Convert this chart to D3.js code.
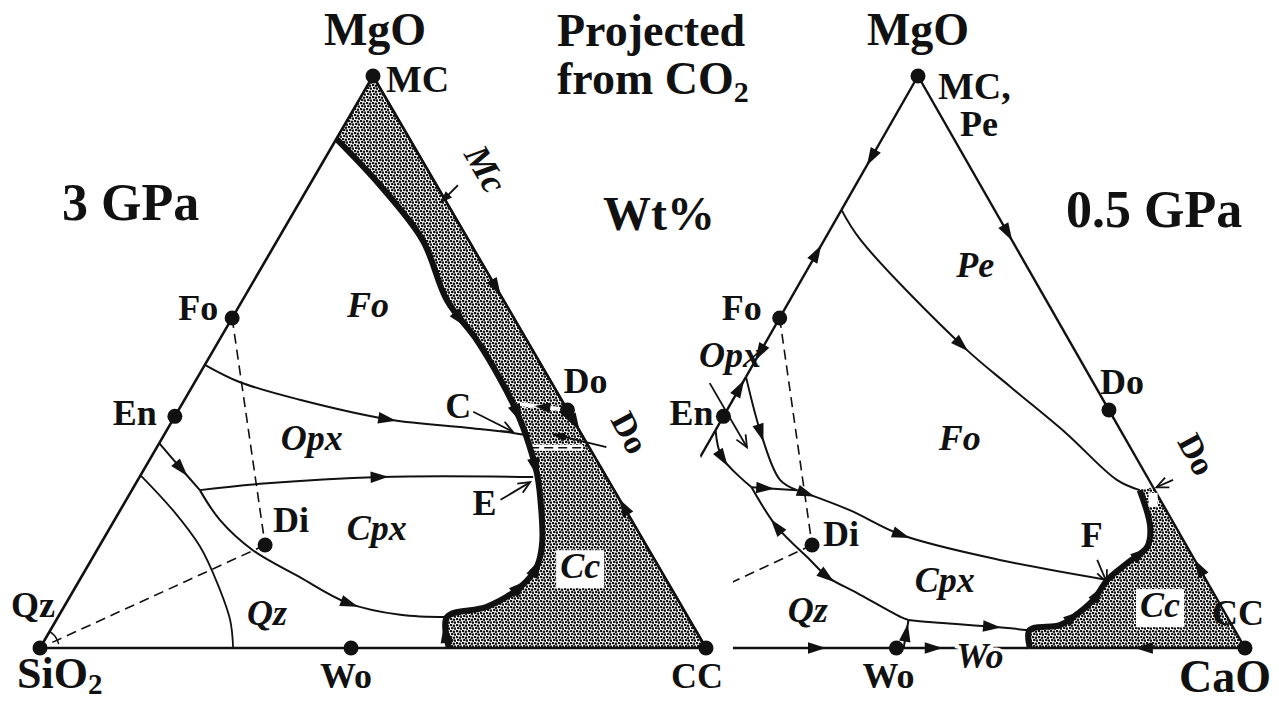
<!DOCTYPE html>
<html>
<head>
<meta charset="utf-8">
<script src="https://cdn.jsdelivr.net/npm/d3@7"></script>
<style>
  body { margin: 0; background: #fff; }
  svg text { font-family: "Liberation Serif", "Times New Roman", serif; font-weight: bold; fill: #111; }
</style>
</head>
<body>
<svg id="chart" width="1279" height="704"></svg>
<script>
// compositions are wt% [CaO, MgO]; SiO2 is the remainder (projected from CO2)
const phaseNames = ["SiO2", "Wo", "CC", "Di", "En", "Fo", "Do", "MC"];
const phaseCaO = [0, 46.7, 100, 24.8, 0, 0, 58.4, 0];
const phaseMgO = [0, 0, 0, 18.0, 40.5, 57.7, 41.6, 100];

// ---- 3 GPa boundaries ----
const hpThick  = [[0,89],[10.6,80.9],[21.8,71.3],[30.7,60.8],[38.7,53.8],[45.7,46.9],[51.1,41.1],[56.0,35.1],[59.3,30.6],[61.9,26.4],[66.2,18.4],[67.5,14.2],[66.8,10.7],[63.5,7.2],[58.4,5.4],[61.4,0]];
const hpFoOpx  = [[0,49.5],[6.7,46.5],[17.3,43.4],[32.7,39.9],[44.9,38.5],[52.2,37.6],[55.1,37.1]];
const hpOpxQz  = [[0,35.8],[4.7,32.0],[10.2,27.6]];
const hpOpxCpx = [[10.2,27.6],[18.7,28.7],[36.2,29.9],[59.1,29.9]];
const hpCpxQz  = [[10.2,27.6],[15.8,22.4],[23.4,17.1],[32.8,12.4],[42.2,7.9],[51.2,5.8],[58.4,5.4]];
const hpQzLine = [[0,30.2],[7.9,24.1],[15.2,17.7],[20.9,11.4],[26.1,4.9],[29.0,0]];
const hpDoTie  = [[58.4,41.6],[50.3,42.7]];
const hpDoDash = [[56.1,35.0],[64.0,35.0]];
const hpFieldNames = ["Fo", "Opx", "Cpx", "Qz", "Cc"];
const hpFieldAt = [[20.3,57.9],[23.5,34.6],[41.1,18.9],[32.1,4.0],[75.0,12.2]];

// ---- 0.5 GPa boundaries ----
const lpFoPe   = [[0,76.6],[5.6,71.3],[30.7,52.6],[41.4,45.6],[53.8,37.6],[65.7,29.4],[70.1,27.6]];
const lpThick  = [[70.1,27.6],[74.9,21.2],[76.2,17.7],[74.6,14.9],[73.0,11.9],[72.6,8.4],[71.0,5.4],[69.7,4.0],[65.5,3.1],[67.1,0]];
const lpFoOpx  = [[0,47.4],[7.7,36.9],[14.2,29.4],[17.7,27.6]];
const lpFoCpx  = [[17.7,27.6],[27.5,24.1],[37.5,19.8],[54.8,15.4],[73.0,11.9]];
const lpOpxQz  = [[0,38.1],[3.3,33.4],[10.5,28.1]];
const lpOpxCpx = [[10.5,28.1],[17.7,27.6]];
const lpCpxQz  = [[10.5,28.1],[17.8,21.2],[25.8,15.4],[30.0,12.4],[35.9,9.6],[44.7,5.4],[46.1,4.9]];
const lpCpxWo  = [[46.1,4.9],[50.9,4.4],[59.7,3.7],[65.5,3.1]];
const lpQzWo   = [[47.8,0],[46.1,4.9]];
const lpCcTop  = [71.9,28.1];
const lpEdges = [
  [[0,100],[0,76.6]], [[0,57.7],[0,76.6]], [[0,57.7],[0,47.4]], [[0,40.5],[0,47.4]], [[0,40.5],[0,0]],
  [[0,100],[58.4,41.6]], [[58.4,41.6],[71.9,28.1]], [[100,0],[71.9,28.1]],
  [[0,0],[46.7,0]], [[46.7,0],[67.1,0]], [[100,0],[67.1,0]]
];
const lpEdgeArrow = [0.61, 0.6, 0.59, 0.72, null, 0.47, null, 0.5, 0.74, 0.28, 0.47];
const lpFieldNames = ["Pe", "Fo", "Opx", "Cpx", "Qz", "Cc"];
const lpFieldAt = [[26.3,64.9],[39.1,34.6],[-3.3,49.1],[49.2,9.8],[30.9,4.5],[84.3,5.4]];

const phase = {};
phaseNames.forEach((n, i) => phase[n] = [phaseCaO[i], phaseMgO[i]]);

const svg = d3.select("#chart");
const defs = svg.append("defs");
const pat = defs.append("pattern").attr("id", "stipple")
  .attr("patternUnits", "userSpaceOnUse").attr("width", 6).attr("height", 6);
pat.append("rect").attr("width", 6).attr("height", 6).attr("fill", "#fff");
[[1, 1], [4, 1.8], [2.2, 4], [5, 4.6]].forEach(([cx, cy]) =>
  pat.append("circle").attr("cx", cx).attr("cy", cy).attr("r", 1.3).attr("fill", "#111"));
defs.append("clipPath").attr("id", "clipR").append("polygon")
  .attr("points", "698,0 1279,0 1279,704 733,704 733,560 699,452");

const smooth = d3.curveCatmullRom.alpha(0.5);

function makePanel(x0, x1, clipId) {
  const xs = d3.scaleLinear().domain([0, 100]).range([x0, x1]);
  const ys = d3.scaleLinear().domain([0, 100]).range([648, 76]);
  const px = d => xs(d[0] + d[1] / 2);
  const py = d => ys(d[1]);
  const g = svg.append("g");
  if (clipId) g.attr("clip-path", `url(#${clipId})`);
  const lab = svg.append("g");
  return {xs, ys, px, py, g, lab};
}

function arrowOn(g, node, t, dir, size) {
  const L = node.getTotalLength();
  const s = L * t;
  const a = node.getPointAtLength(Math.max(0, s - 2));
  const b = node.getPointAtLength(Math.min(L, s + 2));
  const p = node.getPointAtLength(s);
  let ang = Math.atan2(b.y - a.y, b.x - a.x) * 180 / Math.PI;
  if (dir < 0) ang += 180;
  g.append("path")
    .attr("d", `M${size / 2},0L${-size / 2},${-size * 0.32}L${-size / 2},${size * 0.32}Z`)
    .attr("fill", "#111")
    .attr("transform", `translate(${p.x},${p.y}) rotate(${ang})`);
}

function drawPath(P, pts, o = {}) {
  const gen = d3.line().x(P.px).y(P.py).curve(o.curve || d3.curveLinear);
  const path = P.g.append("path")
    .attr("d", gen(pts))
    .attr("fill", "none")
    .attr("stroke", o.color || "#111")
    .attr("stroke-width", o.width || 2)
    .attr("stroke-linejoin", "round");
  if (o.dash) path.attr("stroke-dasharray", o.dash);
  (o.arrows || []).forEach(([t, dir]) => arrowOn(P.g, path.node(), t, dir, o.size || 18));
  return path;
}

function leader(P, from, to, head) {
  const x1 = P.px(from), y1 = P.py(from), x2 = P.px(to), y2 = P.py(to);
  P.lab.append("line").attr("x1", x1).attr("y1", y1).attr("x2", x2).attr("y2", y2)
    .attr("stroke", "#111").attr("stroke-width", 1.8);
  const a = Math.atan2(y2 - y1, x2 - x1), l = 13, w = 0.42;
  if (head === "open") {
    P.lab.append("path")
      .attr("d", `M${x2 - l * Math.cos(a - w)},${y2 - l * Math.sin(a - w)}L${x2},${y2}L${x2 - l * Math.cos(a + w)},${y2 - l * Math.sin(a + w)}`)
      .attr("fill", "none").attr("stroke", "#111").attr("stroke-width", 1.8);
  } else {
    P.lab.append("path")
      .attr("d", `M${x2},${y2}L${x2 - l * Math.cos(a - 0.35)},${y2 - l * Math.sin(a - 0.35)}L${x2 - l * Math.cos(a + 0.35)},${y2 - l * Math.sin(a + 0.35)}Z`)
      .attr("fill", "#111");
  }
}

function label(P, text, pos, o = {}) {
  const x = P.px(pos) + (o.dx || 0), y = P.py(pos) + (o.dy || 0);
  const t = P.lab.append("text")
    .attr("x", x).attr("y", y)
    .attr("text-anchor", o.anchor || "middle")
    .attr("font-size", o.size || 36)
    .text(text);
  if (o.italic) t.attr("font-style", "italic");
  if (o.rotate) t.attr("transform", `rotate(${o.rotate},${x},${y})`);
  if (o.halo) t.attr("stroke", "#fff").attr("stroke-width", 7).attr("paint-order", "stroke");
  if (o.box) {
    const b = t.node().getBBox();
    P.lab.insert("rect", () => t.node())
      .attr("x", b.x - 4).attr("y", b.y + 4).attr("width", b.width + 8).attr("height", b.height - 2)
      .attr("fill", "#fff");
  }
  return t;
}

function dots(P, names) {
  P.g.selectAll(null).data(names).enter().append("circle")
    .attr("cx", n => P.px(phase[n])).attr("cy", n => P.py(phase[n]))
    .attr("r", 7.5).attr("fill", "#111");
}

// ================= 3 GPa panel =================
const P1 = makePanel(40, 706, null);
const hpLine = d3.line().x(P1.px).y(P1.py).curve(smooth);
P1.g.append("path")
  .attr("d", hpLine(hpThick) + `L${P1.px(phase.CC)},${P1.py(phase.CC)}L${P1.px(phase.MC)},${P1.py(phase.MC)}Z`)
  .attr("fill", "url(#stipple)");
drawPath(P1, hpDoDash, {color: "#fff", width: 6});
drawPath(P1, hpDoDash, {width: 1.6, dash: "9,5"});

// triangle
drawPath(P1, [phase.SiO2, phase.CC, phase.MC, phase.SiO2], {width: 2.6});
drawPath(P1, [phase.MC, phase.CC], {width: 0, arrows: [[0.37, 1], [0.607, 1], [0.753, -1]]});

drawPath(P1, hpDoTie, {color: "#fff", width: 4, arrows: [[0.5, 1]], size: 16});
drawPath(P1, hpFoOpx, {curve: smooth, arrows: [[0.57, 1]]});
drawPath(P1, hpOpxQz, {curve: smooth, arrows: [[0.55, 1]]});
drawPath(P1, hpOpxCpx, {curve: smooth, arrows: [[0.54, 1]]});
drawPath(P1, hpCpxQz, {curve: smooth, arrows: [[0.66, 1]]});
drawPath(P1, hpQzLine, {curve: smooth, width: 1.8});
drawPath(P1, [phase.Fo, phase.Di], {width: 1.6, dash: "10,6"});
drawPath(P1, [phase.Di, phase.SiO2], {width: 1.6, dash: "10,6"});
drawPath(P1, hpThick, {curve: smooth, width: 6,
  arrows: [[0.354, 1], [0.53, 1], [0.62, 1], [0.78, -1], [0.82, -1], [0.975, -1]], size: 20});

// small arc at the SiO2 corner
const arc1 = d3.path();
arc1.arc(P1.px(phase.SiO2), P1.py(phase.SiO2), 19, -1.05, -0.2);
P1.g.append("path").attr("d", arc1.toString()).attr("fill", "none").attr("stroke", "#111").attr("stroke-width", 1.5);

dots(P1, ["SiO2", "Wo", "CC", "Di", "En", "Fo", "Do", "MC"]);

// labels
hpFieldNames.forEach((n, i) => label(P1, n, hpFieldAt[i], {italic: true, size: 36, box: n === "Cc"}));
label(P1, "Mc", [24.0, 82.7], {italic: true, size: 36, rotate: 60});
leader(P1, [22.3, 80.9], [21.2, 77.8], "fill");
label(P1, "Do", [68.7, 36.7], {size: 34, rotate: 62});
leader(P1, [67.5, 35.1], [58.3, 37.4], "fill");
label(P1, "C", [42.7, 40.2]);
leader(P1, [44.4, 41.3], [52.1, 37.8], "open");
label(P1, "E", [55.1, 23.3]);
leader(P1, [56.2, 25.9], [59.1, 29.0], "open");

label(P1, "MC", phase.MC, {anchor: "start", dx: 13, dy: 16, size: 38});
label(P1, "Fo", phase.Fo, {anchor: "end", dx: -14, dy: 2});
label(P1, "En", phase.En, {anchor: "end", dx: -18, dy: 9});
label(P1, "Di", phase.Di, {anchor: "start", dx: 8, dy: -13});
label(P1, "Qz", phase.SiO2, {anchor: "end", dx: 15, dy: -31});
label(P1, "Wo", phase.Wo, {dx: -5, dy: 40});
label(P1, "CC", phase.CC, {dx: -9, dy: 40});
label(P1, "Do", phase.Do, {anchor: "start", dx: -4, dy: -17});
const sio2 = label(P1, "SiO", phase.SiO2, {anchor: "start", dx: -23, dy: 40, size: 44});
sio2.append("tspan").attr("font-size", 29).attr("dy", 6).text("2");

// ================= 0.5 GPa panel =================
const P2 = makePanel(591, 1245, "clipR");
const lpLine = d3.line().x(P2.px).y(P2.py).curve(smooth);
P2.g.append("path")
  .attr("d", lpLine(lpThick) + `L${P2.px(phase.CC)},${P2.py(phase.CC)}L${P2.px(lpCcTop)},${P2.py(lpCcTop)}Z`)
  .attr("fill", "url(#stipple)");

lpEdges.forEach((seg, i) => drawPath(P2, seg, {width: 2.4,
  arrows: lpEdgeArrow[i] == null ? [] : [[lpEdgeArrow[i], 1]]}));

drawPath(P2, lpFoPe, {curve: smooth, arrows: [[0.44, 1]]});
drawPath(P2, lpFoOpx, {curve: smooth, arrows: [[0.45, 1]]});
drawPath(P2, lpFoCpx, {curve: smooth, arrows: [[0.03, 1], [0.35, 1]]});
drawPath(P2, lpOpxQz, {curve: smooth, arrows: [[0.42, 1]]});
drawPath(P2, lpOpxCpx, {arrows: [[0.3, 1]]});
drawPath(P2, lpCpxQz, {curve: smooth, arrows: [[0.22, -1], [0.56, 1]]});
drawPath(P2, lpCpxWo, {curve: smooth, arrows: [[0.69, 1]]});
drawPath(P2, lpQzWo, {arrows: [[0.55, 1]]});
drawPath(P2, [phase.Fo, phase.Di], {width: 1.6, dash: "10,6"});
drawPath(P2, [phase.Di, phase.SiO2], {width: 1.6, dash: "10,6"});
drawPath(P2, lpThick, {curve: smooth, width: 6, arrows: [[0.3, -1], [0.56, -1], [0.71, -1]], size: 18});

// little Do field at the top of the Cc field
P2.g.append("rect")
  .attr("x", P2.px([73.0, 25.9]) - 4.5).attr("y", P2.py([73.0, 25.9]) - 7)
  .attr("width", 9).attr("height", 14).attr("fill", "#fff");

dots(P2, ["Wo", "CC", "Di", "En", "Fo", "Do", "MC"]);

lpFieldNames.forEach((n, i) => label(P2, n, lpFieldAt[i], {italic: true, size: 36, box: n === "Cc"}));
label(P2, "Wo", [61.2, -3.5], {italic: true, size: 36, halo: true});
leader(P2, [-5.0, 46.3], [6.3, 35.1], "open");
label(P2, "F", [67.7, 17.7]);
leader(P2, [69.7, 15.4], [73.1, 11.5], "open");
label(P2, "Do", [74.6, 32.9], {size: 34, rotate: 62});
leader(P2, [74.3, 29.4], [72.4, 28.1], "open");

label(P2, "MC,", phase.MC, {anchor: "start", dx: 20, dy: 23, size: 38});
label(P2, "Pe", phase.MC, {anchor: "start", dx: 42, dy: 60});
label(P2, "Fo", phase.Fo, {anchor: "end", dx: -18, dy: 2});
label(P2, "En", phase.En, {anchor: "end", dx: -10, dy: 9});
label(P2, "Di", phase.Di, {anchor: "start", dx: 11, dy: 1});
label(P2, "Wo", phase.Wo, {dx: -8, dy: 40});
label(P2, "Do", phase.Do, {anchor: "start", dx: -9, dy: -16});
label(P2, "CC", phase.CC, {anchor: "start", dx: -33, dy: -23});
label(P2, "CaO", phase.CC, {anchor: "end", dx: 26, dy: 44, size: 46});

// ================= titles =================
const titles = svg.append("g");
titles.append("text").attr("x", 375).attr("y", 45).attr("text-anchor", "middle").attr("font-size", 46).text("MgO");
titles.append("text").attr("x", 918).attr("y", 45).attr("text-anchor", "middle").attr("font-size", 46).text("MgO");
titles.append("text").attr("x", 557).attr("y", 46).attr("font-size", 46).text("Projected");
const co2 = titles.append("text").attr("x", 557).attr("y", 94).attr("font-size", 46).text("from CO");
co2.append("tspan").attr("font-size", 30).attr("dy", 8).text("2");
titles.append("text").attr("x", 62).attr("y", 220).attr("font-size", 52).text("3 GPa");
titles.append("text").attr("x", 603).attr("y", 230).attr("font-size", 48).text("Wt%");
titles.append("text").attr("x", 1066).attr("y", 227).attr("font-size", 52).text("0.5 GPa");
</script>
</body>
</html>
